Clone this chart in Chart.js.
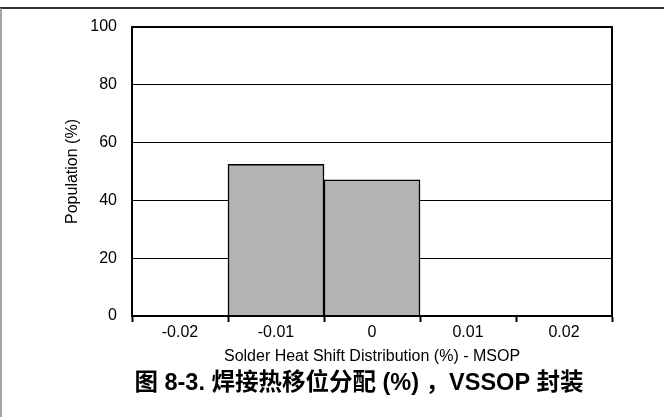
<!DOCTYPE html>
<html>
<head>
<meta charset="utf-8">
<script src="https://cdn.jsdelivr.net/npm/chart.js@4"></script>
<style>
  html, body { margin: 0; padding: 0; background: #fff; }
  #wrap { width: 664px; height: 417px; position: relative; }
</style>
</head>
<body>
<div id="wrap"><canvas id="shiftChart" width="664" height="417"></canvas></div>
<script>
// ==================== DATA ====================
const categories = ['-0.02', '-0.01', '0', '0.01', '0.02'];
const population = [0, 52.5, 47.1, 0, 0];
const yTicks = [0, 20, 40, 60, 80, 100];

const xTitle = 'Solder Heat Shift Distribution (%) - MSOP';
const yTitle = 'Population (%)';
const figTitle = '图 8-3. 焊接热移位分配 (%) ，VSSOP 封装';

const FONT = '"Liberation Sans", Arial, "Noto Sans CJK SC", sans-serif';

// Frame round the plot area, page edges and the figure caption
const framePlugin = {
    id: 'frame',
    beforeDraw(chart) {
        const c = chart.ctx;
        c.save();
        c.fillStyle = '#fff';
        c.fillRect(0, 0, chart.width, chart.height);
        c.strokeStyle = '#333';
        c.lineWidth = 2;
        c.beginPath();
        c.moveTo(0, 8);
        c.lineTo(chart.width, 8);
        c.stroke();
        c.strokeStyle = '#888';
        c.lineWidth = 1.5;
        c.beginPath();
        c.moveTo(1, 8);
        c.lineTo(1, chart.height);
        c.stroke();
        c.restore();
    },
    afterDatasetsDraw(chart) {
        const a = chart.chartArea;
        const c = chart.ctx;
        c.save();
        c.strokeStyle = '#000';
        c.lineWidth = 2;
        c.strokeRect(a.left, a.top, a.right - a.left, a.bottom - a.top);
        c.restore();
    },
    afterDraw(chart) {
        const c = chart.ctx;
        c.save();
        c.fillStyle = '#000';
        c.font = 'bold 23.5px ' + FONT;
        c.textAlign = 'center';
        c.textBaseline = 'middle';
        c.fillText(figTitle, 359, 384);
        c.restore();
    }
};

const ctx = document.getElementById('shiftChart');
new Chart(ctx, {
    type: 'bar',
    data: {
        labels: categories,
        datasets: [{
            data: population,
            backgroundColor: '#b3b3b3',
            borderColor: '#000',
            borderWidth: 1.5,
            barPercentage: 1,
            categoryPercentage: 1
        }]
    },
    options: {
        responsive: false,
        animation: false,
        layout: { padding: { left: 60, right: 52, top: 27, bottom: 52.4 } },
        plugins: {
            legend: { display: false },
            tooltip: { enabled: false }
        },
        scales: {
            x: {
                afterFit: s => { s.height = 48.6; },
                grid: {
                    drawOnChartArea: false,
                    tickLength: 6,
                    tickColor: '#000',
                    tickWidth: 2
                },
                border: { color: '#000', width: 2 },
                ticks: { color: '#000', padding: 1, font: { family: FONT, size: 16 } },
                title: {
                    display: true,
                    text: xTitle,
                    color: '#000',
                    font: { family: FONT, size: 16 },
                    padding: { top: 2, bottom: -1.5 }
                }
            },
            y: {
                min: 0,
                max: 100,
                afterFit: s => { s.width = 72; },
                afterBuildTicks: s => { s.ticks = yTicks.map(v => ({ value: v })); },
                grid: { color: '#000', lineWidth: 1, drawTicks: false },
                border: { color: '#000', width: 2 },
                ticks: { color: '#000', padding: 15, font: { family: FONT, size: 16 } },
                title: {
                    display: true,
                    text: yTitle,
                    color: '#000',
                    font: { family: FONT, size: 16 },
                    padding: { top: 2.5, bottom: 2 }
                }
            }
        }
    },
    plugins: [framePlugin]
});
</script>
</body>
</html>
